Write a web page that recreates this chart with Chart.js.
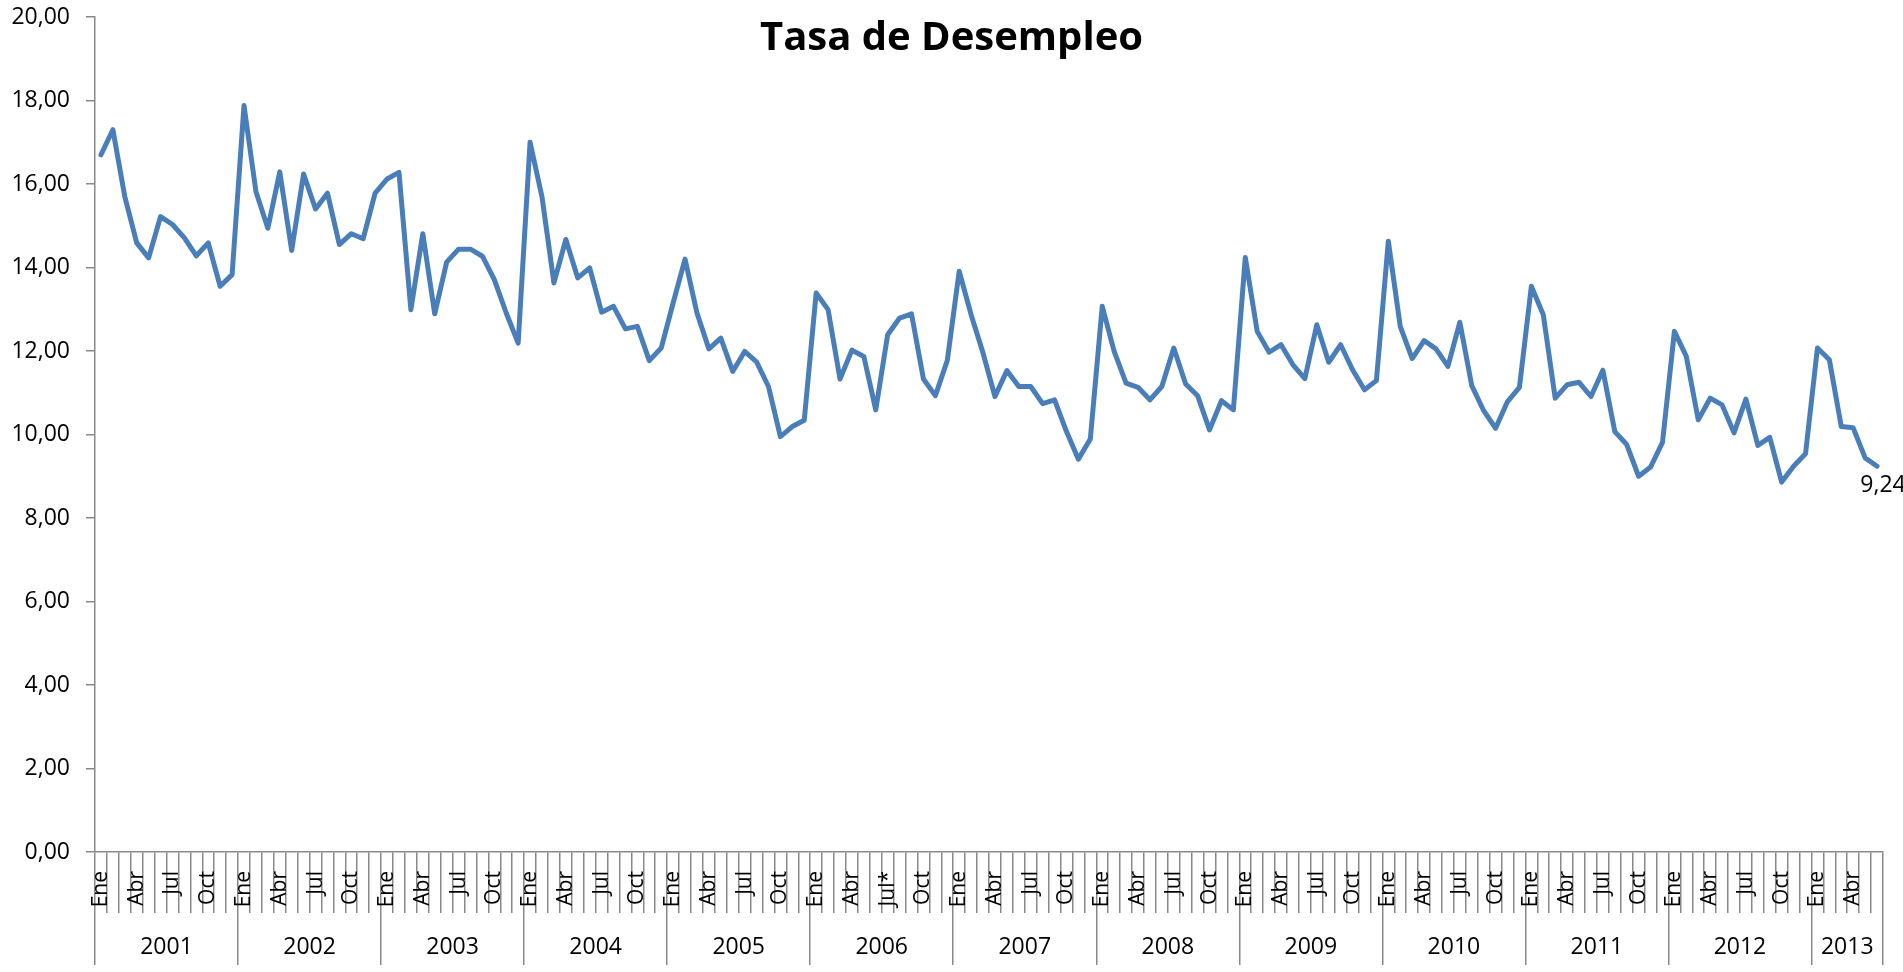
<!DOCTYPE html>
<html>
<head>
<meta charset="utf-8">
<title>Tasa de Desempleo</title>
<script src="https://cdn.jsdelivr.net/npm/chart.js@4"></script>
<style>
  html, body { margin: 0; padding: 0; background: #fff; }
  #contenedor { width: 1903px; height: 972px; position: relative; }
</style>
</head>
<body>
<div id="contenedor"><canvas id="grafico"></canvas></div>
<script>
const textoTitulo = 'Tasa de Desempleo';

const anios = ['2001', '2002', '2003', '2004', '2005', '2006', '2007',
  '2008', '2009', '2010', '2011', '2012', '2013'];

// solo se rotulan Ene, Abr, Jul y Oct
const mesesCortos = ['Ene', '', '', 'Abr', '', '', 'Jul', '', '', 'Oct', '', ''];
const notaJul2006 = 'Jul*';

const tasa2001 = [16.70, 17.30, 15.70, 14.59, 14.23, 15.22, 15.03, 14.71, 14.28, 14.59, 13.55, 13.83];
const tasa2002 = [17.88, 15.82, 14.94, 16.29, 14.41, 16.24, 15.40, 15.78, 14.55, 14.81, 14.69, 15.78];
const tasa2003 = [16.12, 16.28, 12.99, 14.81, 12.89, 14.13, 14.44, 14.44, 14.27, 13.71, 12.91, 12.19];
const tasa2004 = [17.00, 15.69, 13.63, 14.67, 13.75, 13.99, 12.93, 13.07, 12.53, 12.59, 11.77, 12.07];
const tasa2005 = [13.15, 14.20, 12.91, 12.05, 12.31, 11.51, 11.99, 11.74, 11.15, 9.95, 10.19, 10.34];
const tasa2006 = [13.39, 12.99, 11.33, 12.02, 11.87, 10.59, 12.39, 12.79, 12.89, 11.33, 10.93, 11.77];
const tasa2007 = [13.91, 12.87, 11.95, 10.91, 11.53, 11.15, 11.15, 10.74, 10.83, 10.07, 9.41, 9.89];
const tasa2008 = [13.07, 11.99, 11.23, 11.13, 10.83, 11.15, 12.07, 11.21, 10.93, 10.11, 10.81, 10.59];
const tasa2009 = [14.24, 12.47, 11.97, 12.15, 11.67, 11.34, 12.63, 11.73, 12.15, 11.55, 11.07, 11.29];
const tasa2010 = [14.63, 12.59, 11.82, 12.25, 12.05, 11.63, 12.69, 11.17, 10.57, 10.15, 10.79, 11.13];
const tasa2011 = [13.55, 12.87, 10.87, 11.19, 11.25, 10.91, 11.54, 10.07, 9.76, 9.00, 9.22, 9.81];
const tasa2012 = [12.47, 11.87, 10.35, 10.87, 10.71, 10.04, 10.85, 9.74, 9.93, 8.86, 9.24, 9.54];
const tasa2013 = [12.07, 11.79, 10.19, 10.16, 9.44, 9.24];

const ticksY = [0, 2, 4, 6, 8, 10, 12, 14, 16, 18, 20];

const porAnio = [tasa2001, tasa2002, tasa2003, tasa2004, tasa2005, tasa2006, tasa2007,
  tasa2008, tasa2009, tasa2010, tasa2011, tasa2012, tasa2013];

const valores = porAnio.flat();
const etiquetas = [];
porAnio.forEach((serie, k) => {
  serie.forEach((v, m) => {
    etiquetas.push(anios[k] === '2006' && m === 6 ? notaJul2006 : mesesCortos[m]);
  });
});

// separadores y centros de cada año para el segundo nivel del eje
const limites = [-0.5];
const centros = [];
let acum = 0;
porAnio.forEach(serie => {
  centros.push(acum + serie.length / 2 - 0.5);
  acum += serie.length;
  limites.push(acum - 0.5);
});

const fuente = "'Open Sans', 'Liberation Sans', sans-serif";
const gris = '#898989';
const coma = v => v.toFixed(2).replace('.', ',');

const titulo = {
  id: 'tituloFijo',
  afterDraw(chart) {
    const c = chart.ctx;
    c.save();
    c.font = 'bold 40px ' + fuente;
    c.fillStyle = '#000';
    c.textAlign = 'center';
    c.textBaseline = 'alphabetic';
    c.fillText(textoTitulo, chart.width / 2, 50);
    c.restore();
  }
};

const etiquetaFinal = {
  id: 'etiquetaFinal',
  afterDatasetsDraw(chart) {
    const meta = chart.getDatasetMeta(0);
    const ultimo = meta.data[meta.data.length - 1];
    const c = chart.ctx;
    c.save();
    c.font = '23px ' + fuente;
    c.fillStyle = '#000';
    c.textAlign = 'center';
    c.textBaseline = 'top';
    c.fillText(coma(valores[valores.length - 1]), ultimo.x + 6, ultimo.y + 8);
    c.restore();
  }
};

const ctx = document.getElementById('grafico');

const grafico = new Chart(ctx, { // eslint-disable-line
  type: 'line',
  data: {
    labels: etiquetas,
    datasets: [{
      data: valores,
      borderColor: '#4A7EBB',
      borderWidth: 5,
      pointRadius: 0,
      tension: 0,
      fill: false,
      borderJoinStyle: 'round',
      borderCapStyle: 'round'
    }]
  },
  options: {
    responsive: true,
    maintainAspectRatio: false,
    animation: false,
    devicePixelRatio: 1,
    layout: { padding: { top: 17, right: 20, bottom: 0, left: 0 } },
    plugins: {
      legend: { display: false },
      tooltip: { enabled: false },
      title: { display: false }
    },
    scales: {
      x: {
        type: 'category',
        position: 'bottom',
        weight: 0,
        offset: true,
        grid: { offset: true, drawOnChartArea: false, tickLength: 61, color: gris, lineWidth: 1.5 },
        border: { display: true, color: gris, width: 1.5 },
        ticks: {
          autoSkip: false,
          minRotation: 90,
          maxRotation: 90,
          padding: -42,
          color: '#000',
          font: { family: fuente, size: 21 }
        },
        afterFit: s => { s.height = 61; }
      },
      x2: {
        type: 'linear',
        position: 'bottom',
        weight: 1,
        min: -0.5,
        max: valores.length - 0.5,
        offset: false,
        grid: {
          drawOnChartArea: false,
          tickLength: 52,
          lineWidth: 1.5,
          color: c => (c.tick && limites.includes(c.tick.value)) ? gris : 'rgba(0,0,0,0)'
        },
        border: { display: false },
        afterBuildTicks: s => {
          s.ticks = limites.concat(centros).sort((a, b) => a - b).map(v => ({ value: v }));
        },
        ticks: {
          autoSkip: false,
          maxRotation: 0,
          padding: -31,
          color: '#000',
          font: { family: fuente, size: 23 },
          callback: v => {
            const k = centros.indexOf(v);
            return k >= 0 ? anios[k] : '';
          }
        },
        afterFit: s => { s.height = 59; }
      },
      y: {
        min: ticksY[0],
        max: ticksY[ticksY.length - 1],
        afterBuildTicks: s => { s.ticks = ticksY.map(v => ({ value: v })); },
        grid: { drawOnChartArea: false, tickLength: 9, color: gris, lineWidth: 1.5 },
        border: { display: true, color: gris, width: 1.5 },
        ticks: {
          padding: 16,
          color: '#000',
          font: { family: fuente, size: 23 },
          callback: v => coma(v)
        },
        afterFit: s => {
          s.width = 95;
          s.paddingTop = 0;
          s.paddingBottom = 0;
        }
      }
    }
  },
  plugins: [titulo, etiquetaFinal]
});
</script>
</body>
</html>
